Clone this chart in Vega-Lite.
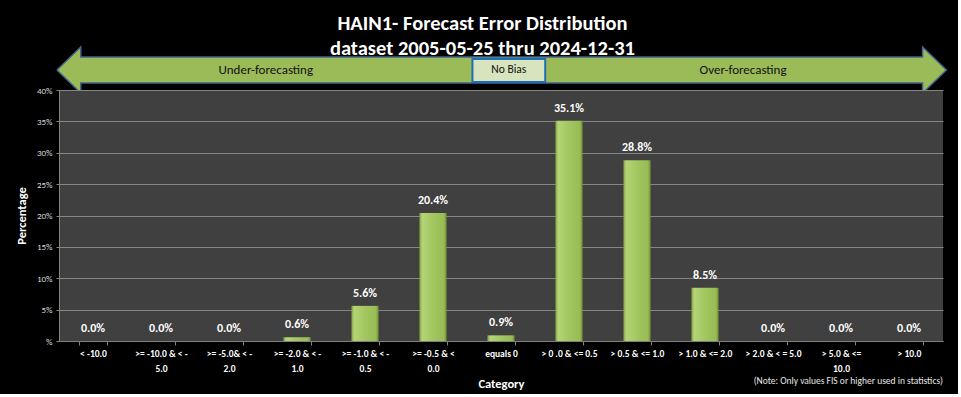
{
  "$schema": "https://vega.github.io/schema/vega-lite/v6.json",
  "background": "black",
  "padding": {"left": 15, "top": 13, "right": 8, "bottom": 4},
  "title": {
    "text": ["HAIN1- Forecast Error Distribution", "dataset 2005-05-25  thru 2024-12-31"],
    "color": "white", "fontSize": 20.5, "fontWeight": "bold", "anchor": "middle", "lineHeight": 25, "offset": -15
  },
  "config": {"view": {"stroke": null}, "font": "Carlito, Liberation Sans Narrow, Liberation Sans, sans-serif"},
  "spacing": 0,
  "bounds": "flush",
  "datasets": {
    "arrow": [
      {"x": -0.03, "y": 23, "o": 1},
      {"x": 0.32, "y": 46, "o": 2},
      {"x": 0.32, "y": 36, "o": 3},
      {"x": 12.7, "y": 36, "o": 4},
      {"x": 12.7, "y": 46, "o": 5},
      {"x": 13.05, "y": 23, "o": 6},
      {"x": 12.7, "y": 0, "o": 7},
      {"x": 12.7, "y": 10, "o": 8},
      {"x": 0.32, "y": 10, "o": 9},
      {"x": 0.32, "y": 0, "o": 10},
      {"x": -0.03, "y": 23, "o": 11}
    ],
    "box": [{"x": 6.08, "x2": 7.15, "y": 34, "y2": 11, "xc": 6.615, "label": "No  Bias"}],
    "zones": [{"label": "Under-forecasting", "x": 3.04}, {"label": "Over-forecasting", "x": 10.06}],
    "errors": [
      {"cat": "< -10.0", "pct": 0.0},
      {"cat": ">= -10.0 & < -5.0", "pct": 0.0},
      {"cat": ">= -5.0& < -2.0", "pct": 0.0},
      {"cat": ">= -2.0 & < -1.0", "pct": 0.006},
      {"cat": ">= -1.0 & < -0.5", "pct": 0.056},
      {"cat": ">= -0.5 & < 0.0", "pct": 0.204},
      {"cat": "equals 0", "pct": 0.009},
      {"cat": "> 0 .0 & <= 0.5", "pct": 0.351},
      {"cat": "> 0.5 & <= 1.0", "pct": 0.288},
      {"cat": "> 1.0 & <= 2.0", "pct": 0.085},
      {"cat": "> 2.0 & < = 5.0", "pct": 0.0},
      {"cat": "> 5.0 & <= 10.0", "pct": 0.0},
      {"cat": "> 10.0", "pct": 0.0}
    ]
  },
  "vconcat": [
    {
      "width": 884,
      "height": 43,
      "layer": [
        {
          "data": {"name": "arrow"},
          "mark": {"type": "line", "fill": "#9BBB59", "stroke": "#41658f", "strokeWidth": 1.5, "strokeJoin": "miter", "interpolate": "linear"},
          "encoding": {
            "x": {"field": "x", "type": "quantitative", "scale": {"domain": [0, 13], "nice": false, "zero": false}, "axis": null},
            "y": {"field": "y", "type": "quantitative", "scale": {"domain": [3, 46], "nice": false, "zero": false}, "axis": null},
            "order": {"field": "o", "type": "quantitative"}
          }
        },
        {
          "data": {"name": "box"},
          "mark": {"type": "rect", "fill": "#D7E4BD", "stroke": "#1F6FB4", "strokeWidth": 2},
          "encoding": {
            "x": {"field": "x", "type": "quantitative"},
            "x2": {"field": "x2"},
            "y": {"field": "y", "type": "quantitative"},
            "y2": {"field": "y2"}
          }
        },
        {
          "data": {"name": "box"},
          "mark": {"type": "text", "fontSize": 11.5, "color": "#111111"},
          "encoding": {
            "x": {"field": "xc", "type": "quantitative"},
            "y": {"datum": 23},
            "text": {"field": "label"}
          }
        },
        {
          "data": {"name": "zones"},
          "mark": {"type": "text", "fontSize": 13, "color": "#111111"},
          "encoding": {
            "x": {"field": "x", "type": "quantitative"},
            "y": {"datum": 23},
            "text": {"field": "label"}
          }
        }
      ]
    },
    {
      "width": 884,
      "height": 251,
      "view": {"fill": "#404040", "stroke": null},
      "title": {
        "text": "(Note: Only values FIS or higher used in statistics)",
        "orient": "bottom", "anchor": "end", "fontSize": 9.5, "fontWeight": "normal", "color": "#e6e6e6", "offset": -14
      },
      "data": {"name": "errors"},
      "encoding": {
        "x": {
          "field": "cat", "type": "nominal", "sort": null,
          "scale": {"paddingInner": 0.6, "paddingOuter": 0.3},
          "axis": {
            "title": "Category", "labelAngle": 0, "tickBand": "extent", "labelOverlap": false, "labelLimit": 0,
            "labelExpr": "datum.label == '>= -10.0 & < -5.0' ? ['>= -10.0 & < -', '5.0'] : datum.label == '>= -5.0& < -2.0' ? ['>= -5.0& < -', '2.0'] : datum.label == '>= -2.0 & < -1.0' ? ['>= -2.0 & < -', '1.0'] : datum.label == '>= -1.0 & < -0.5' ? ['>= -1.0 & < -', '0.5'] : datum.label == '>= -0.5 & < 0.0' ? ['>= -0.5 & <', '0.0'] : datum.label == '> 5.0 & <= 10.0' ? ['> 5.0 & <=', '10.0'] : datum.label",
            "labelFontSize": 9.5, "labelFontWeight": "bold", "labelColor": "white", "labelLineHeight": 15,
            "labelPadding": 3, "labelBaseline": "top",
            "tickSize": 4, "tickColor": "#7f7f7f", "domainColor": "#7f7f7f",
            "titleColor": "white", "titleFontSize": 12.5, "titleFontWeight": "bold", "titlePadding": 5
          }
        },
        "y": {
          "field": "pct", "type": "quantitative",
          "scale": {"domain": [0, 0.4], "nice": false},
          "axis": {
            "title": "Percentage",
            "values": [0, 0.05, 0.1, 0.15, 0.2, 0.25, 0.3, 0.35, 0.4],
            "labelExpr": "datum.value == 0 ? '%' : format(datum.value, '.0%')",
            "grid": true, "gridColor": "#858585", "domainColor": "#858585", "tickColor": "#858585", "tickSize": 3,
            "labelFontSize": 9, "labelColor": "#d9d9d9", "labelPadding": 4,
            "titleColor": "white", "titleFontSize": 12.5, "titleFontWeight": "bold", "titlePadding": 8
          }
        }
      },
      "layer": [
        {
          "mark": {
            "type": "bar",
            "color": {
              "gradient": "linear", "x1": 0, "x2": 1, "y1": 0, "y2": 0,
              "stops": [
                {"offset": 0, "color": "#7d9c3e"},
                {"offset": 0.1, "color": "#b4d576"},
                {"offset": 0.5, "color": "#a2c660"},
                {"offset": 0.9, "color": "#98bd55"},
                {"offset": 1, "color": "#6f8d34"}
              ]
            }
          }
        },
        {
          "mark": {"type": "text", "dy": -9, "baseline": "alphabetic", "fontSize": 12, "fontWeight": "bold", "color": "white"},
          "encoding": {"text": {"field": "pct", "format": ".1%"}}
        }
      ]
    }
  ]
}
